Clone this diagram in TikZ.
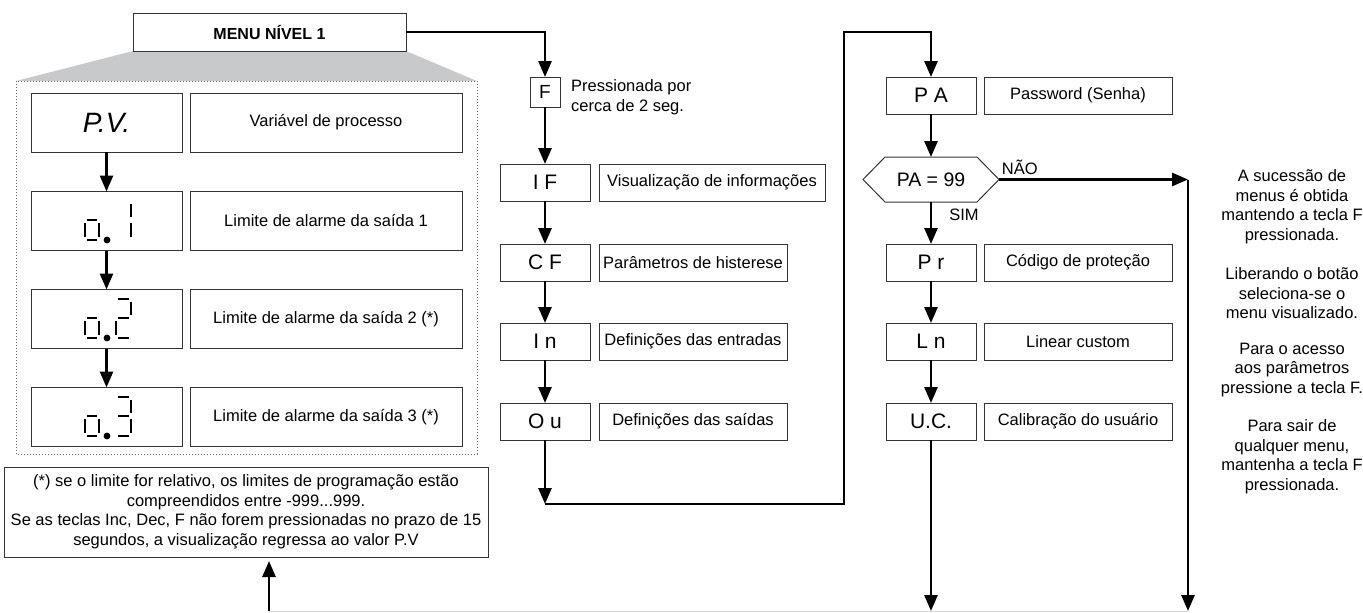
\documentclass[tikz,border=0pt]{standalone}
\usepackage{fontspec}
\setmainfont{Liberation Sans}
\usetikzlibrary{arrows.meta,calc}

% seven-segment pieces: #1 left x, #2 right x, #3 row centre y
\newcommand\SgA[3]{\draw[seg] ({#1+2},{#3-20}) -- ({#2-2},{#3-20});}
\newcommand\SgB[3]{\draw[seg] (#2,{#3-17}) -- (#2,{#3-4});}
\newcommand\SgC[3]{\draw[seg] (#2,{#3+2}) -- (#2,{#3+16});}
\newcommand\SgD[3]{\draw[seg] ({#1+2},{#3+19}) -- ({#2-2},{#3+19});}
\newcommand\SgE[3]{\draw[seg] (#1,{#3+2}) -- (#1,{#3+16});}
\newcommand\SgG[3]{\draw[seg] ({#1+2},{#3-1}) -- ({#2-2},{#3-1});}
% small "o" with decimal point
\newcommand\SgO[1]{\SgG{85}{99}{#1}\SgC{85}{99}{#1}\SgD{85}{99}{#1}\SgE{85}{99}{#1}
  \fill (107,{#1+19}) circle (3.4);}

\begin{document}
\begin{tikzpicture}[x=1pt,y=-1pt,
  txt/.style={font=\fontsize{16.5}{19.5}\selectfont},
  box/.style={draw=black!80, line width=1pt, inner sep=0pt, outer sep=0pt, txt},
  keybox/.style={box, minimum width=90pt, minimum height=37pt, font=\fontsize{21}{23}\selectfont},
  descbox/.style={box, minimum height=37pt},
  dispbox/.style={box, minimum width=151pt, minimum height=59pt},
  rowdesc/.style={box, minimum width=272pt, minimum height=59pt},
  arr/.style={line width=2.7pt, -{Triangle[length=16pt,width=13pt]}},
  seg/.style={line width=2.3pt},
  lbl/.style={txt, inner sep=0pt}]

\useasboundingbox (0,0) rectangle (1363,613);

% ---------- level-1 menu and its expanded panel ----------
\fill[fill={rgb,255:red,200;green,201;blue,203}]
  (133,51) -- (406,51) -- (477,81) -- (16,81) -- cycle;
\draw[black!60, line width=1pt, dotted] (16,81) rectangle (477,454);
\node[box, fill=white, minimum width=273pt, minimum height=38pt, font=\bfseries\fontsize{16}{18}\selectfont]
  (menu) at (269.5,32) {MENU NÍVEL 1};

\node[dispbox] (pv) at (106.5,122.5) {\fontsize{28}{30}\selectfont\itshape P.V.};
\node[rowdesc] (pvd) at (326,122.5) {Variável de processo};
\node[dispbox] (o1) at (106.5,221) {};
\node[rowdesc] (o1d) at (326,221) {Limite de alarme da saída 1};
\node[dispbox] (o2) at (106.5,319) {};
\node[rowdesc] (o2d) at (326,319) {Limite de alarme da saída 2 (*)};
\node[dispbox] (o3) at (106.5,417) {};
\node[rowdesc] (o3d) at (326,417) {Limite de alarme da saída 3 (*)};

% segment digits: o.1, o.2, o.3
\SgO{221}\SgB{116}{131}{221}\SgC{116}{131}{221}
\SgO{319}\SgA{116}{131}{319}\SgB{116}{131}{319}\SgG{116}{131}{319}\SgE{116}{131}{319}\SgD{116}{131}{319}
\SgO{417}\SgA{116}{131}{417}\SgB{116}{131}{417}\SgG{116}{131}{417}\SgC{116}{131}{417}\SgD{116}{131}{417}

\draw[arr] (pv) -- (o1);
\draw[arr] (o1) -- (o2);
\draw[arr] (o2) -- (o3);

\node[box, minimum width=484pt, minimum height=90pt, align=center] (note) at (246,512)
  {(*) se o limite for relativo, os limites de programação estão\\
   compreendidos entre -999...999.\\
   Se as teclas Inc, Dec, F não forem pressionadas no prazo de 15\\
   segundos, a visualização regressa ao valor P.V};

% ---------- main sequence ----------
\node[box, minimum width=30pt, minimum height=30pt, font=\fontsize{19}{21}\selectfont] (F) at (545,92) {F};
\node[lbl, anchor=west, align=left] (Fl) at (571,97) {Pressionada por\\cerca de 2 seg.};

\node[keybox] (IF) at (545,182.5) {I F};
\node[descbox, minimum width=226pt] (IFd) at (712,182.5) {Visualização de informações};
\node[keybox] (CF) at (545,262.5) {C F};
\node[descbox, minimum width=188pt] (CFd) at (693,262.5) {Parâmetros de histerese};
\node[keybox] (In) at (545,341.5) {I n};
\node[descbox, minimum width=188pt] (Ind) at (693,341.5) {Definições das entradas};
\node[keybox] (Ou) at (545,421.5) {O u};
\node[descbox, minimum width=188pt] (Oud) at (693,421.5) {Definições das saídas};

\coordinate (c1) at (545,504);
\coordinate (c2) at (844,32);

\draw[arr] (menu.east) -| (F.north);
\draw[arr] (F) -- (IF);
\draw[arr] (IF) -- (CF);
\draw[arr] (CF) -- (In);
\draw[arr] (In) -- (Ou);
\draw[arr] (Ou) -- (c1);

% ---------- password branch ----------
\node[keybox] (PA) at (931,95.5) {P A};
\node[descbox, minimum width=188pt] (PAd) at (1078,95.5) {Password (Senha)};
\node[minimum width=136pt, minimum height=45pt, inner sep=0pt, outer sep=0pt,
      font=\fontsize{19.5}{21}\selectfont] (hex) at (931,179.5) {PA = 99};
\draw[black!80, line width=1pt] (hex.west) -- ($(hex.north west)+(22,0)$)
  -- ($(hex.north east)+(-22,0)$) -- (hex.east) -- ($(hex.south east)+(-22,0)$)
  -- ($(hex.south west)+(22,0)$) -- cycle;
\node[keybox] (Pr) at (931,262.5) {P r};
\node[descbox, minimum width=188pt] (Prd) at (1078,262.5) {Código de proteção};
\node[keybox] (Ln) at (931,341.5) {L n};
\node[descbox, minimum width=188pt] (Lnd) at (1078,341.5) {Linear custom};
\node[keybox] (UC) at (931,421.5) {U.C.};
\node[descbox, minimum width=188pt] (UCd) at (1078,421.5) {Calibração do usuário};

\coordinate (n1) at (1188,179.5);
\coordinate (n2) at (1188,611);
\coordinate (b1) at (931,611);
\coordinate (b0) at (269,611);

\draw[arr, line join=miter] (c1) -| (c2) -| (PA.north);
\draw[arr] (PA) -- (hex);
\draw[arr] (hex) -- node[lbl, pos=0.3, right=17pt] {SIM} (Pr);
\draw[arr] (Pr) -- (Ln);
\draw[arr] (Ln) -- (UC);
\draw[arr] (UC) -- (b1);
\draw[arr] (hex.east) -- node[lbl, pos=0.11, above=3pt] {NÃO} (n1);
\draw[arr] (n1) -- (n2);

% return to the note
\draw[black!15, line width=1pt] (b0) -- (n2);
\draw[arr, shorten >=4pt] (b0) -- (b0 |- note.south);

% ---------- side remarks ----------
\node[lbl, align=center] (r1) at (1292,206.5) {A sucessão de\\menus é obtida\\mantendo a tecla F\\pressionada.};
\node[lbl, align=center] (r2) at (1292,293.5) {Liberando o botão\\seleciona-se o\\menu visualizado.};
\node[lbl, align=center] (r3) at (1292,370) {Para o acesso\\aos parâmetros\\pressione a tecla F.};
\node[lbl, align=center] (r4) at (1292,456.5) {Para sair de\\qualquer menu,\\mantenha a tecla F\\pressionada.};
\end{tikzpicture}
\end{document}
